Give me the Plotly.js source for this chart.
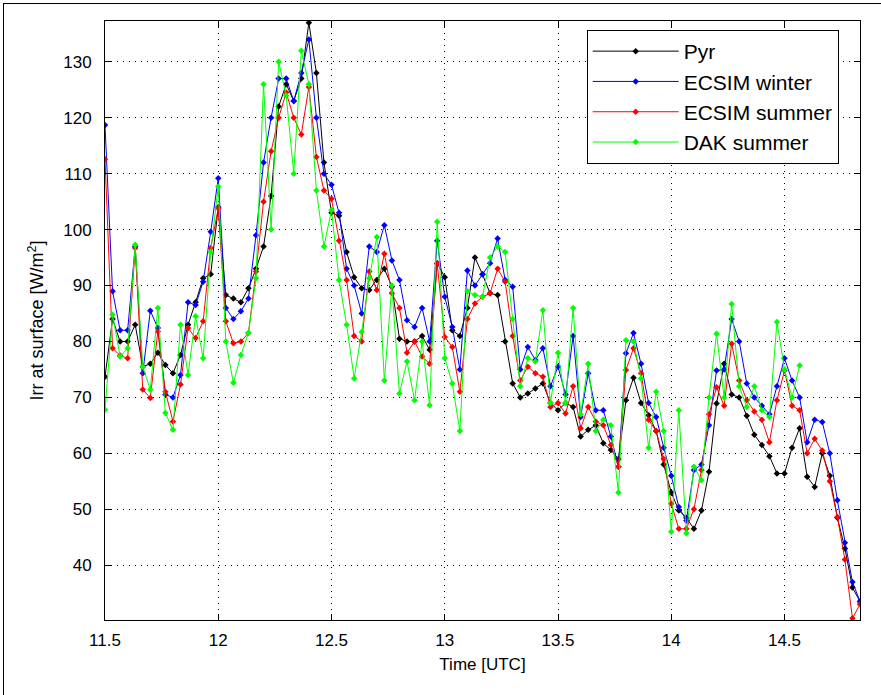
<!DOCTYPE html>
<html>
<head>
<meta charset="utf-8">
<script src="https://cdn.plot.ly/plotly-3.0.1.min.js"></script>
<style>
  html, body { margin: 0; padding: 0; background: #fff; }
  #wrap { position: relative; width: 881px; height: 695px; }
  #chart { width: 881px; height: 695px; }
  #frameL { position: absolute; left: 3px; top: 3px; width: 1px; height: 692px; background: #000; }
  #frameT { position: absolute; left: 3px; top: 3px; width: 878px; height: 1px; background: #000; }
</style>
</head>
<body>
<div id="wrap">
<div id="chart"></div>
<div id="frameL"></div>
<div id="frameT"></div>
</div>
<script>
// Time axis: 2-minute samples starting at 11.5 UTC
const startHour = 11.5;
const stepHour = 1 / 30;

const seriesNames = ["Pyr", "ECSIM winter", "ECSIM summer", "DAK summer"];
const seriesColors = ["#000000", "#0000ff", "#ff0000", "#00ff00"];

const pyr = [73.7, 84, 80, 80, 83, 75.5, 76, 78, 75.8, 74.3,
  77.6, 83, 87, 91.3, 92, 104, 88.3, 87.7, 87, 89.5,
  93, 97, 106, 122, 126, 123, 127, 137, 128, 112,
  103, 102.5, 96, 91.5, 89.5, 89.2, 91, 93, 89.8, 80.5,
  80, 80, 81, 78.5, 94, 91.5, 82, 81, 86, 95,
  92, 88.6, 88.3, 80, 72.5, 70, 70.7, 71.6, 72.5, 69,
  67.7, 69, 68.3, 63, 64.2, 65, 61.8, 60.6, 59, 69.5,
  73.5, 69, 66.8, 64, 58, 53, 49.8, 48.5, 46.5, 49.8,
  56.7, 68.9, 76, 70.5, 70, 66.7, 63.3, 61.5, 59.5, 56.4,
  56.4, 61, 64.5, 55.8, 54, 60, 56, 48.5, 43, 36, 33.5];

const ecsimWinter = [118.7, 89, 82, 82, 97, 74.3, 85.5, 82.4, 70.5, 70,
  74, 87, 86.5, 90.7, 99.6, 109.2, 86, 84, 85.4, 87.7,
  99, 112, 120, 127, 127, 123, 128, 134, 120, 110,
  108, 103, 93, 90, 85, 97, 96, 100.8, 94.5, 91,
  83.8, 82.6, 86, 80, 98, 88, 82.6, 75, 92.7, 90,
  92, 94, 98.4, 91, 89.8, 75, 79, 76.7, 78.8, 72,
  75.5, 70.5, 81, 66.5, 74.3, 67.7, 67.7, 63, 57.6, 77.9,
  81.5, 76, 69, 66.5, 61, 56, 50.4, 48, 57, 58,
  65, 74.8, 75, 84, 80, 72.5, 70, 68.5, 67, 72,
  77, 73, 70, 62, 66, 65.6, 60, 51.6, 44, 37, 33.5];

const ecsimSummer = [112.6, 78.8, 77.5, 77, 96.7, 71.4, 69.9, 81.8, 71, 65.7,
  72.3, 82.4, 80.6, 83.6, 96.7, 103.8, 83.6, 79.7, 80, 81.5,
  92.5, 105, 114, 120, 124.5, 120, 117, 125.5, 113, 107,
  105.5, 98, 91, 81, 80, 92.5, 89.2, 95.7, 88.6, 86,
  78, 80, 77.3, 76, 93.9, 80.8, 79, 71, 84, 86.8,
  88, 88.6, 93, 90.7, 81, 73, 75.5, 74.3, 73.7, 68.3,
  69, 67.1, 72, 64.5, 68.3, 65.7, 65, 61.5, 57.6, 74.9,
  78.8, 74.3, 66, 64, 59, 51, 46.5, 46.5, 50, 57,
  67, 71.8, 68.5, 79.6, 73, 69.5, 67.5, 66, 62, 69.5,
  74.8, 68.5, 67.7, 60, 62.6, 60.5, 55, 48.6, 41, 30.5, 33];

const dakSummer = [67.8, 84.8, 77.3, 78.8, 97.3, 75.5, 71.4, 86, 67.2, 64.2,
  83, 74, 84.5, 77, 96, 107.7, 80, 72.6, 77.6, 81.5,
  91.3, 126, 100, 130, 124, 110, 132, 126, 107, 97,
  103.5, 91, 83, 73.4, 81.7, 91.3, 98.7, 73, 90, 70.7,
  76.4, 69.5, 80, 68.6, 101.4, 77, 72.5, 64, 89, 88.3,
  88, 95, 97, 96, 84, 72, 77, 76.4, 85.6, 69,
  78, 69, 86, 67, 76, 64, 66, 65, 53, 80.2,
  80, 73.4, 61, 71, 64, 46, 67.7, 45.7, 57.6, 55.2,
  70, 81.4, 70, 86.7, 72, 68.3, 72, 67.7, 66.5, 83.5,
  75, 70, 75.7];

const yTicks = [40, 50, 60, 70, 80, 90, 100, 110, 120, 130];
const xTicks = [11.5, 12, 12.5, 13, 13.5, 14, 14.5];

function timesFor(arr) { return arr.map((_, i) => startHour + i * stepHour); }

const allSeries = [pyr, ecsimWinter, ecsimSummer, dakSummer];
const traces = allSeries.map((vals, i) => ({
  type: 'scatter',
  mode: 'lines+markers',
  name: seriesNames[i],
  legendgroup: 'g' + i,
  x: timesFor(vals),
  y: vals,
  line: { color: seriesColors[i], width: 1 },
  marker: { color: seriesColors[i], size: 5, symbol: 'diamond' }
}));

const fontFam = '"Liberation Sans", Arial, sans-serif';
const layout = {
  width: 881, height: 695,
  margin: { l: 105, r: 21, t: 21, b: 75 },
  paper_bgcolor: '#ffffff', plot_bgcolor: '#ffffff',
  font: { family: fontFam, size: 16, color: '#000' },
  showlegend: true,
  legend: {
    x: 0.638, y: 0.985, xanchor: 'left', yanchor: 'top',
    bgcolor: '#ffffff', bordercolor: '#000', borderwidth: 1,
    font: { family: fontFam, size: 21, color: '#000' },
    tracegroupgap: 11, itemwidth: 86, traceorder: 'normal'
  },
  xaxis: {
    range: [11.5, 14.8333],
    tickvals: xTicks, ticktext: xTicks.map(String),
    ticks: 'inside', ticklen: 6, tickcolor: '#000',
    showline: true, linecolor: '#000', linewidth: 1, mirror: 'ticks',
    showgrid: true, gridcolor: '#000', gridwidth: 1, griddash: '1px,5px',
    zeroline: false,
    tickfont: { size: 17 },
    ticklabelstandoff: 5,
    title: { text: 'Time [UTC]', font: { size: 17 }, standoff: 8 }
  },
  yaxis: {
    range: [30.2, 137.3],
    tickvals: yTicks, ticktext: yTicks.map(String),
    ticks: 'inside', ticklen: 6, tickcolor: '#000',
    showline: true, linecolor: '#000', linewidth: 1, mirror: 'ticks',
    showgrid: true, gridcolor: '#000', gridwidth: 1, griddash: '1px,5px',
    zeroline: false,
    tickfont: { size: 17 },
    ticklabelstandoff: 9,
    title: { text: 'Irr at surface [W/m<sup>2</sup>]', font: { size: 18 }, standoff: 14 }
  }
};

Plotly.newPlot('chart', traces, layout, { displayModeBar: false, staticPlot: true });
</script>
</body>
</html>
